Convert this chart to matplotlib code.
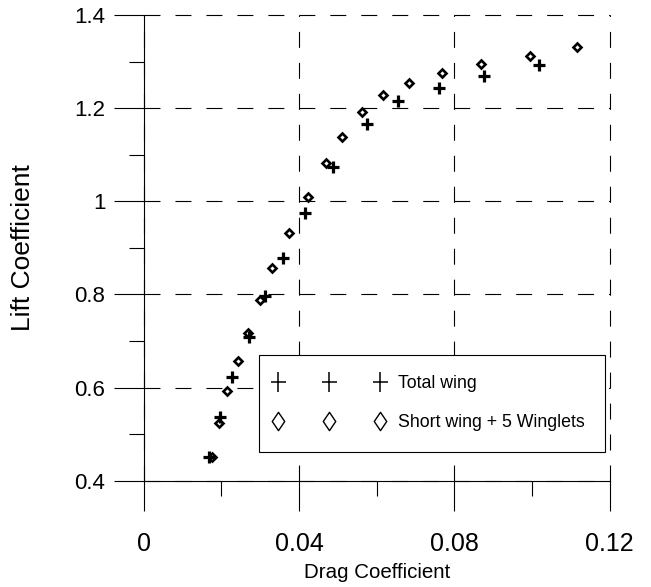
import matplotlib
matplotlib.use("Agg")
import matplotlib.pyplot as plt
from matplotlib.path import Path
from matplotlib.lines import Line2D
from matplotlib.legend_handler import HandlerLine2D

plt.rcParams['lines.scale_dashes'] = False

# ---- data ----
total_cd = [0.0169, 0.0197, 0.0228, 0.0272, 0.0312, 0.0360, 0.0416, 0.0488,
            0.0576, 0.0656, 0.0761, 0.0877, 0.1019]
total_cl = [0.450, 0.537, 0.622, 0.709, 0.797, 0.878, 0.974, 1.073,
            1.167, 1.216, 1.243, 1.268, 1.293]
short_cd = [0.0175, 0.0195, 0.0215, 0.0244, 0.0269, 0.0300, 0.0331, 0.0375,
            0.0424, 0.0470, 0.0512, 0.0562, 0.0616, 0.0682, 0.0768, 0.0869,
            0.0995, 0.1117]
short_cl = [0.450, 0.523, 0.593, 0.656, 0.717, 0.788, 0.857, 0.931,
            1.010, 1.082, 1.137, 1.192, 1.228, 1.253, 1.275, 1.294,
            1.313, 1.332]
x_ticks = [0, 0.04, 0.08, 0.12]
x_ticklabels = ["0", "0.04", "0.08", "0.12"]
x_minor = [0.02, 0.06, 0.10]
y_ticks = [0.4, 0.6, 0.8, 1.0, 1.2, 1.4]
y_ticklabels = ["0.4", "0.6", "0.8", "1", "1.2", "1.4"]
y_minor = [0.5, 0.7, 0.9, 1.1, 1.3]
series_labels = ["Total wing", "Short wing + 5 Winglets"]

REG = ['Liberation Sans', 'DejaVu Sans']

fig = plt.figure(figsize=(6.51, 5.87), dpi=100)
ax = fig.add_axes([0.2207, 0.1811, 0.7158, 0.7933])

ax.plot(short_cd, short_cl, ls='none', marker='D', ms=4.1, mew=1.9,
        mfc='none', mec='black', zorder=3, clip_on=False)
ax.plot(total_cd, total_cl, ls='none', marker='+', ms=8.4, mew=2.3,
        color='black', zorder=4, clip_on=False)

ax.set_xlim(0, 0.12)
ax.set_ylim(0.4, 1.4)

for s in ['top', 'right']:
    ax.spines[s].set_visible(False)
for s in ['left', 'bottom']:
    ax.spines[s].set_linewidth(0.8)
    ax.spines[s].set_color('black')

ax.set_xticks(x_ticks)
ax.set_xticklabels(x_ticklabels, family=REG, fontsize=18)
ax.set_xticks(x_minor, minor=True)
ax.set_yticks(y_ticks)
ax.set_yticklabels(y_ticklabels, family=REG, fontsize=16)
ax.set_yticks(y_minor, minor=True)

ax.tick_params(axis='both', which='major', direction='out', length=21.6,
               width=0.8, color='black')
ax.tick_params(axis='both', which='minor', direction='out', length=10.8,
               width=0.8, color='black')
ax.tick_params(axis='x', which='major', pad=15)
ax.tick_params(axis='y', which='major', pad=6)

ax.grid(True, which='major', color='black', linewidth=0.8,
        linestyle=(0, (11.5, 10.8)))
for gl in ax.get_xgridlines() + ax.get_ygridlines():
    gl.set_clip_on(False)

ax.set_xlabel("Drag Coefficient", family=REG, fontsize=14.8)
ax.xaxis.set_label_coords(0.5, -0.176)
ax.set_ylabel("Lift Coefficient", family=REG, fontsize=19)
ax.yaxis.set_label_coords(-0.233, 0.5)

plus_path = Path([(-0.75, 0), (0.75, 0), (0, -1), (0, 1)],
                 [Path.MOVETO, Path.LINETO, Path.MOVETO, Path.LINETO])
diam_path = Path([(0, 1), (0.68, 0), (0, -1), (-0.68, 0), (0, 1)],
                 [Path.MOVETO, Path.LINETO, Path.LINETO, Path.LINETO, Path.CLOSEPOLY])

h1 = Line2D([], [], ls='none', marker=plus_path, ms=14.4, mew=1.1,
            color='black', mfc='none')
h2 = Line2D([], [], ls='none', marker=diam_path, ms=13.2, mew=1.0,
            color='black', mfc='none')

fs = 12.8
leg = ax.legend([h1, h2], series_labels, loc='upper left',
                bbox_to_anchor=(259 / 651, 1 - 355 / 587),
                bbox_transform=fig.transFigure, borderaxespad=0,
                numpoints=3, handlelength=5.58, handletextpad=1.09,
                borderpad=1.15, labelspacing=1.22, fancybox=False,
                framealpha=1, edgecolor='black',
                handler_map={h1: HandlerLine2D(marker_pad=-0.08),
                             h2: HandlerLine2D(marker_pad=-0.08)},
                prop={'family': REG, 'size': fs})
leg.get_frame().set_linewidth(0.8)
leg.set_zorder(5)

fig.savefig("out.png", dpi=100)
